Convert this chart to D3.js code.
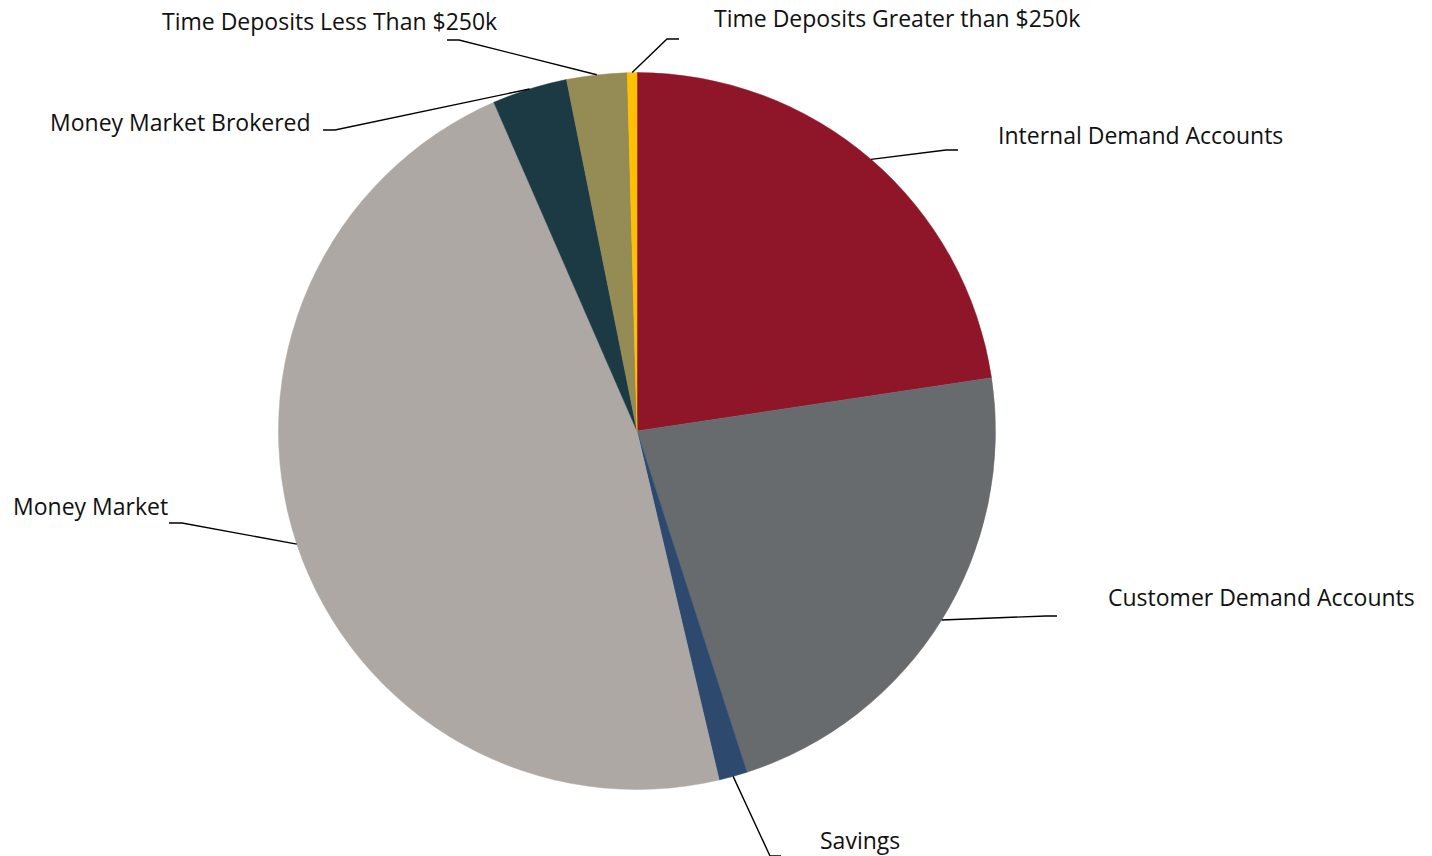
<!DOCTYPE html>
<html>
<head>
<meta charset="utf-8">
<script src="https://cdn.jsdelivr.net/npm/d3@7"></script>
<style>
  html, body { margin: 0; padding: 0; background: #ffffff; }
  svg { display: block; }
  text { font-family: "Open Sans", "Noto Sans", sans-serif; fill: #111111; }
</style>
</head>
<body>
<svg id="chart" width="1432" height="856"></svg>
<script>
// ---- data (percent of total deposits) ----
const categories = [
  "Internal Demand Accounts",
  "Customer Demand Accounts",
  "Savings",
  "Money Market",
  "Money Market Brokered",
  "Time Deposits Less Than $250k",
  "Time Deposits Greater than $250k"
];
const values = [22.63, 22.41, 1.28, 47.14, 3.39, 2.72, 0.43];
const colors = ["#8F1629", "#676B6E", "#2D4A6E", "#ADA8A4", "#1B3A44", "#958B55", "#FFC000"];

// ---- label layout (elbow, end of horizontal segment, text anchor) ----
const labelLayout = [
  { elbow: [946, 150], end: [958, 150], text: [998, 144] },
  { elbow: [1046, 616], end: [1057, 616], text: [1108, 606] },
  { elbow: [770, 856], end: [781, 856], text: [820, 849] },
  { elbow: [182, 523], end: [169, 523], text: [13, 515] },
  { elbow: [335, 130], end: [323, 130], text: [50, 131] },
  { elbow: [459, 40], end: [447, 40], text: [162, 30] },
  { elbow: [667, 39], end: [679, 39], text: [714, 27] }
];

const W = 1432, H = 856;
const cx = 637, cy = 431, R = 358.5;

const svg = d3.select("#chart");
const g = svg.append("g").attr("transform", `translate(${cx},${cy})`);

const pie = d3.pie().sort(null).value(d => d.value);
const data = categories.map((c, i) => ({ name: c, value: values[i], color: colors[i], layout: labelLayout[i] }));
const arcs = pie(data);

const arc = d3.arc().innerRadius(0).outerRadius(R);
const edgeArc = d3.arc().innerRadius(R).outerRadius(R);

g.selectAll("path.slice")
  .data(arcs)
  .join("path")
  .attr("class", "slice")
  .attr("d", arc)
  .attr("fill", d => d.data.color)
  .attr("stroke", d => d.data.color)
  .attr("stroke-width", 0.5);

// leader lines
const line = d3.line();
svg.selectAll("path.leader")
  .data(arcs)
  .join("path")
  .attr("class", "leader")
  .attr("d", d => {
    const c = edgeArc.centroid(d);
    const start = [c[0] + cx, c[1] + cy];
    return line([start, d.data.layout.elbow, d.data.layout.end]);
  })
  .attr("fill", "none")
  .attr("stroke", "#000000")
  .attr("stroke-width", 1.4);

svg.selectAll("text.label")
  .data(arcs)
  .join("text")
  .attr("class", "label")
  .attr("x", d => d.data.layout.text[0])
  .attr("y", d => d.data.layout.text[1])
  .attr("font-size", 23)
  .text(d => d.data.name);
</script>
</body>
</html>
